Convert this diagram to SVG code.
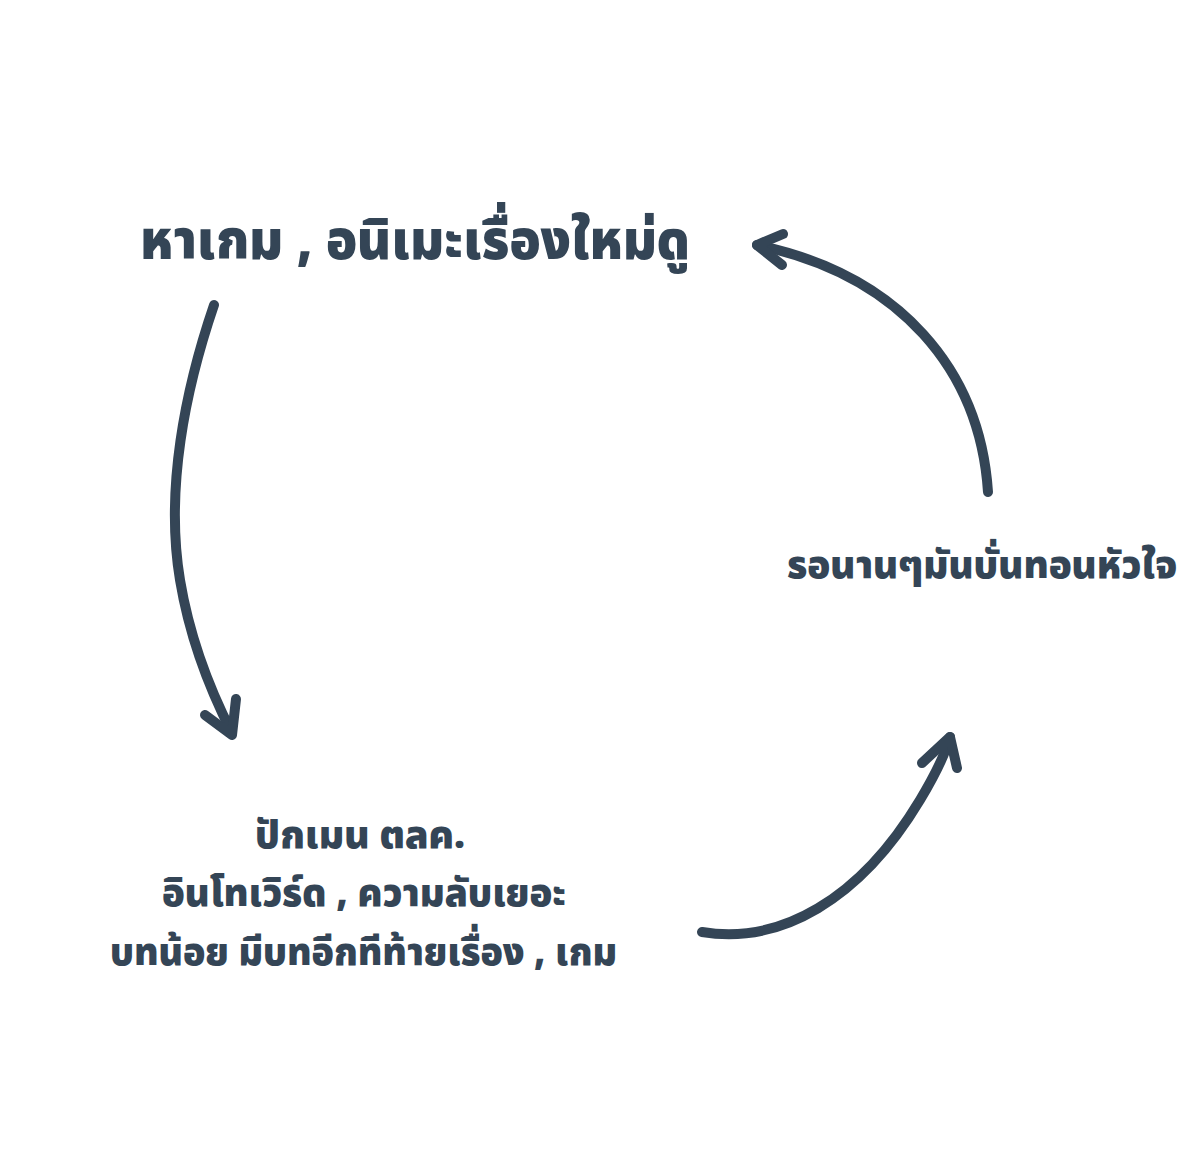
<svg xmlns="http://www.w3.org/2000/svg" width="1200" height="1169" viewBox="0 0 1200 1169">
<style>
.t{font-family:"Noto Sans Thai","Noto Sans Thai UI","Noto Sans","DejaVu Sans",sans-serif;font-weight:900;fill:#344556;text-anchor:middle}
.c{fill:none;stroke:#344556;stroke-width:10;stroke-linecap:round;stroke-linejoin:round}
</style>
<rect width="1200" height="1169" fill="#ffffff"/>
<g id="node-top"><text class="t" x="415" y="259" font-size="54" textLength="550" lengthAdjust="spacingAndGlyphs">หาเกม , อนิเมะเรื่องใหม่ดู</text></g>
<g id="node-right"><text class="t" x="982" y="578" font-size="38" textLength="390" lengthAdjust="spacingAndGlyphs">รอนานๆมันบั่นทอนหัวใจ</text></g>
<g id="node-bottom">
<text class="t" x="360" y="848" font-size="39" textLength="210" lengthAdjust="spacingAndGlyphs">ปักเมน ตลค.</text>
<text class="t" x="364" y="906" font-size="39" textLength="404" lengthAdjust="spacingAndGlyphs">อินโทเวิร์ด , ความลับเยอะ</text>
<text class="t" x="363.5" y="965" font-size="39" textLength="507" lengthAdjust="spacingAndGlyphs">บทน้อย มีบทอีกทีท้ายเรื่อง , เกม</text>
</g>
<g id="connectors">
<path class="c" d="M214,305 C185,390 165,490 180,580 C190,640 210,690 232,733"/>
<path class="c" d="M205,715 L232,735 L236,699"/>
<path class="c" d="M702,932 C780,945 860,900 920,800 C935,775 945,755 950,737"/>
<path class="c" d="M922,763 L950,737 L957,768"/>
<path class="c" d="M988,492 C980,370 900,275 757,245"/>
<path class="c" d="M783,234 L757,245 L782,265"/>
</g>
</svg>
